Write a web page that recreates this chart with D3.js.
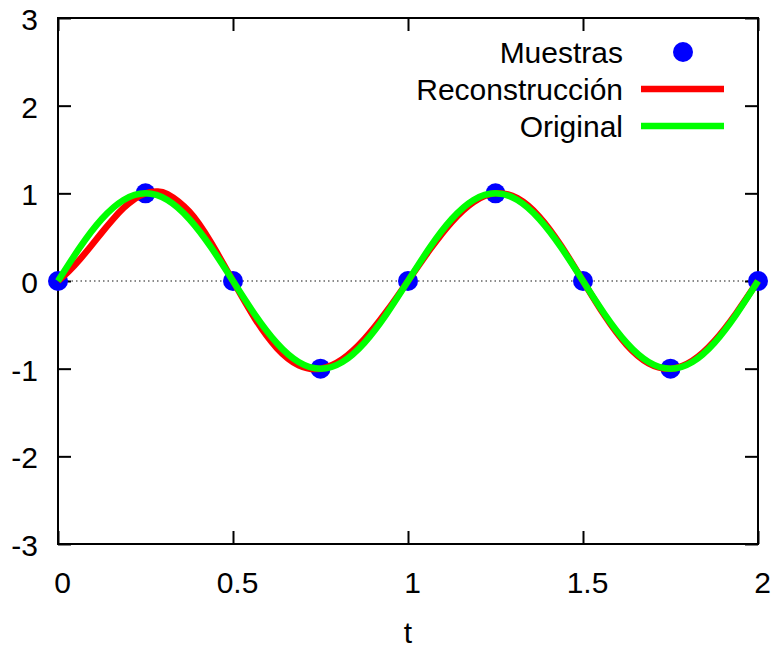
<!DOCTYPE html>
<html>
<head>
<meta charset="utf-8">
<script src="https://cdn.jsdelivr.net/npm/d3@7"></script>
<style>
  html, body { margin: 0; padding: 0; background: #fff; }
  svg { display: block; }
  text { font-family: "Liberation Sans", Arial, sans-serif; }
</style>
</head>
<body>
<svg id="chart" width="772" height="651"></svg>
<script>
// ---- data ----
const xTicks = [0, 0.5, 1, 1.5, 2];
const xTickLabels = ["0", "0.5", "1", "1.5", "2"];
const yTicks = [-3, -2, -1, 0, 1, 2, 3];
const yTickLabels = ["-3", "-2", "-1", "0", "1", "2", "3"];

// Muestras (samples)
const sampleT = [0, 0.25, 0.5, 0.75, 1, 1.25, 1.5, 1.75, 2];
const sampleV = [0, 1, 0, -1, 0, 1, 0, -1, 0];

// Reconstrucción
const reconT = [0, 0.03125, 0.0625, 0.09375, 0.125, 0.15625, 0.1875, 0.21875, 0.25, 0.28125, 0.3125,
  0.375, 0.4375, 0.5, 0.5625, 0.625, 0.6875, 0.75, 0.8125, 0.875, 0.9375, 1,
  1.0625, 1.125, 1.1875, 1.25, 1.3125, 1.375, 1.4375, 1.5, 1.5625, 1.625, 1.6875, 1.75,
  1.8125, 1.875, 1.9375, 2];
const reconV = [0, 0.112, 0.247, 0.397, 0.552, 0.701, 0.833, 0.935, 1.0, 1.020, 0.992,
  0.792, 0.436, 0, -0.427, -0.764, -0.961, -1.0, -0.892, -0.664, -0.354, 0,
  0.357, 0.673, 0.901, 1.0, 0.945, 0.735, 0.402, 0, -0.400, -0.731, -0.940, -1.0,
  -0.909, -0.686, -0.368, 0];

// Original
const origT = [0, 0.0625, 0.125, 0.1875, 0.25, 0.3125, 0.375, 0.4375, 0.5, 0.5625, 0.625, 0.6875, 0.75,
  0.8125, 0.875, 0.9375, 1, 1.0625, 1.125, 1.1875, 1.25, 1.3125, 1.375, 1.4375, 1.5,
  1.5625, 1.625, 1.6875, 1.75, 1.8125, 1.875, 1.9375, 2];
const origV = [0, 0.383, 0.707, 0.924, 1, 0.924, 0.707, 0.383, 0, -0.383, -0.707, -0.924, -1,
  -0.924, -0.707, -0.383, 0, 0.383, 0.707, 0.924, 1, 0.924, 0.707, 0.383, 0,
  -0.383, -0.707, -0.924, -1, -0.924, -0.707, -0.383, 0];

const seriesNames = ["Muestras", "Reconstrucción", "Original"];
const seriesColors = ["#0000ff", "#ff0000", "#00ff00"];
const xTitle = "t";

// ---- layout ----
const svg = d3.select("#chart");
const L = 58, R = 758, T = 18, B = 544;
const x = d3.scaleLinear().domain([0, 2]).range([L, R]);
const y = d3.scaleLinear().domain([-3, 3]).range([B, T]);
const FS = 30;

// zero line
svg.append("line")
  .attr("x1", x(0)).attr("x2", x(2)).attr("y1", y(0)).attr("y2", y(0))
  .attr("stroke", "#666").attr("stroke-width", 1.3).attr("stroke-dasharray", "1.5,3");

// axes
const tickLen = 13;
const gL = svg.append("g").attr("transform", `translate(${L},0)`)
  .call(d3.axisLeft(y).tickValues(yTicks).tickFormat((d, i) => yTickLabels[i]).tickSize(-tickLen).tickPadding(20));
const gR = svg.append("g").attr("transform", `translate(${R},0)`)
  .call(d3.axisRight(y).tickValues(yTicks).tickFormat("").tickSize(-tickLen));
const gB = svg.append("g").attr("transform", `translate(0,${B})`)
  .call(d3.axisBottom(x).tickValues(xTicks).tickFormat((d, i) => xTickLabels[i]).tickSize(-tickLen).tickPadding(28));
const gT = svg.append("g").attr("transform", `translate(0,${T})`)
  .call(d3.axisTop(x).tickValues(xTicks).tickFormat("").tickSize(-tickLen));
[gL, gR, gB, gT].forEach(g => {
  g.select(".domain").remove();
  g.selectAll(".tick line").attr("stroke", "#000").attr("stroke-width", 2);
  g.selectAll("text").attr("font-size", FS).attr("fill", "#000")
    .attr("font-family", '"Liberation Sans", Arial, sans-serif');
});
gL.selectAll(".tick text").attr("dy", "0.38em");
gB.selectAll(".tick text").attr("dx", 4);

// frame
svg.append("rect").attr("x", L).attr("y", T).attr("width", R - L).attr("height", B - T)
  .attr("fill", "none").attr("stroke", "#000").attr("stroke-width", 2);

// x title
svg.append("text").attr("x", x(1)).attr("y", 643).attr("text-anchor", "middle")
  .attr("font-size", FS).text(xTitle);

// samples (drawn first, under the lines)
svg.append("g").selectAll("circle").data(sampleT).join("circle")
  .attr("cx", d => x(d)).attr("cy", (d, i) => y(sampleV[i])).attr("r", 10)
  .attr("fill", seriesColors[0]);

const line = d3.line().x(d => x(d[0])).y(d => y(d[1])).curve(d3.curveNatural);
svg.append("path").datum(reconT.map((t, i) => [t, reconV[i]]))
  .attr("d", line).attr("fill", "none").attr("stroke", seriesColors[1])
  .attr("stroke-width", 6.5).attr("stroke-linejoin", "round");
svg.append("path").datum(origT.map((t, i) => [t, origV[i]]))
  .attr("d", line).attr("fill", "none").attr("stroke", seriesColors[2])
  .attr("stroke-width", 6.5).attr("stroke-linejoin", "round");

// legend
const legRowsY = [52, 89, 126];
const leg = svg.append("g");
seriesNames.forEach((name, i) => {
  leg.append("text").attr("x", 623).attr("y", legRowsY[i]).attr("dy", "0.36em")
    .attr("text-anchor", "end").attr("font-size", FS).text(name);
  if (i === 0) {
    leg.append("circle").attr("cx", 683).attr("cy", legRowsY[i]).attr("r", 10).attr("fill", seriesColors[i]);
  } else {
    leg.append("line").attr("x1", 641).attr("x2", 724).attr("y1", legRowsY[i]).attr("y2", legRowsY[i])
      .attr("stroke", seriesColors[i]).attr("stroke-width", 6.5);
  }
});
</script>
</body>
</html>
